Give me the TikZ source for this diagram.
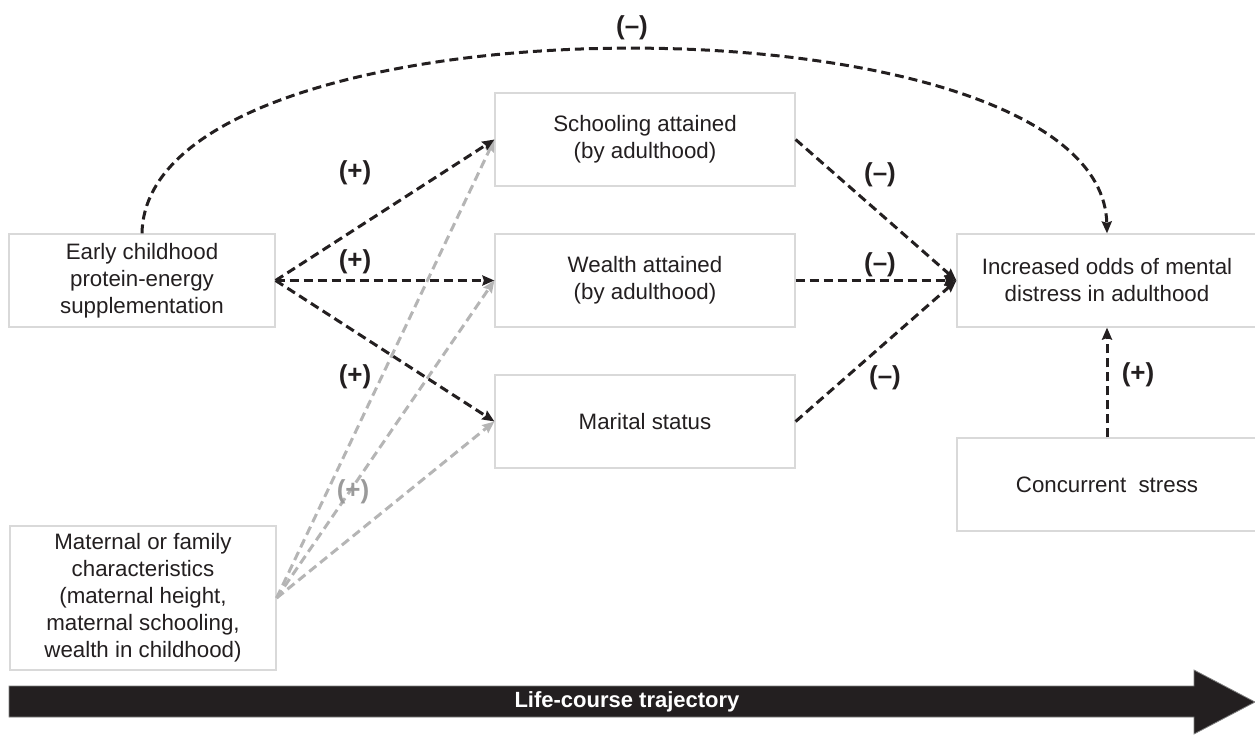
\documentclass[tikz,border=0pt]{standalone}
\usepackage{fontspec}
\setmainfont{Liberation Sans}
\usetikzlibrary{arrows.meta}
\definecolor{ink}{HTML}{231F20}
\definecolor{boxline}{HTML}{D9D9D9}
\definecolor{lightgr}{HTML}{B5B5B5}
\definecolor{labgr}{HTML}{9A9A9A}
\begin{document}
\begin{tikzpicture}[x=1pt,y=-1pt,
  box/.style={draw=boxline,line width=1.2pt,fill=white,minimum width=300pt,minimum height=93pt,
    align=center,font=\fontsize{22.3}{27}\selectfont,text=ink,inner sep=0pt},
  sbox/.style={box,minimum width=266pt},
  dline/.style={draw=ink,line width=3pt,dash pattern=on 9pt off 5pt,
    -{Stealth[length=12pt,width=10pt,inset=1.5pt]}},
  gline/.style={dline,draw=lightgr},
  sign/.style={font=\bfseries\fontsize{26}{30}\selectfont,text=ink},
  gsign/.style={sign,text=labgr}]
\useasboundingbox (0,0) rectangle (1255,734);
\node[sbox] (early) at (142,280.5) {Early childhood\\protein-energy\\supplementation};
\node[sbox,minimum height=144pt] (mat) at (143,598) {Maternal or family\\characteristics\\(maternal height,\\maternal schooling,\\wealth in childhood)};
\node[box] (sch) at (645,139.5) {Schooling attained\\(by adulthood)};
\node[box] (wea) at (645,280.5) {Wealth attained\\(by adulthood)};
\node[box] (mar) at (645,421.5) {Marital status};
\node[box] (inc) at (1107,280.5) {Increased odds of mental\\distress in adulthood};
\node[box] (con) at (1107,484.5) {Concurrent\ \ stress};
% gray connectors
\draw[gline] (mat.east) -- (sch.west);
\draw[gline] (mat.east) -- (wea.west);
\draw[gline] (mat.east) -- (mar.west);
% black connectors
\draw[dline] (early.east) -- (sch.west);
\draw[dline] (early.east) -- (wea.west);
\draw[dline] (early.east) -- (mar.west);
\draw[dline] (sch.east) -- (inc.west);
\draw[dline] (wea.east) -- (inc.west);
\draw[dline] (mar.east) -- (inc.west);
\draw[dline] (con.north) -- (inc.south);
\draw[dline] (early.north) .. controls (146,-12) and (1102,-12) .. (inc.north);
% labels
\node[sign] (l1) at (632,28) {(--)};
\node[sign] (l2) at (355,173) {(+)};
\node[sign] (l3) at (355,262) {(+)};
\node[sign] (l4) at (355,377) {(+)};
\node[gsign] (l5) at (353,492) {(+)};
\node[sign] (l6) at (880,175) {(--)};
\node[sign] (l7) at (880,265) {(--)};
\node[sign] (l8) at (885,378) {(--)};
\node[sign] (l9) at (1138,375) {(+)};
% life-course arrow
\draw[fill=ink,draw=gray,line width=0.8pt] (9,686) -- (1194,686) -- (1194,670) -- (1255,702) -- (1194,734) -- (1194,717) -- (9,717) -- cycle;
\node[font=\bfseries\fontsize{22}{26}\selectfont,text=white] (lct) at (627,702) {Life-course trajectory};
\end{tikzpicture}
\end{document}
